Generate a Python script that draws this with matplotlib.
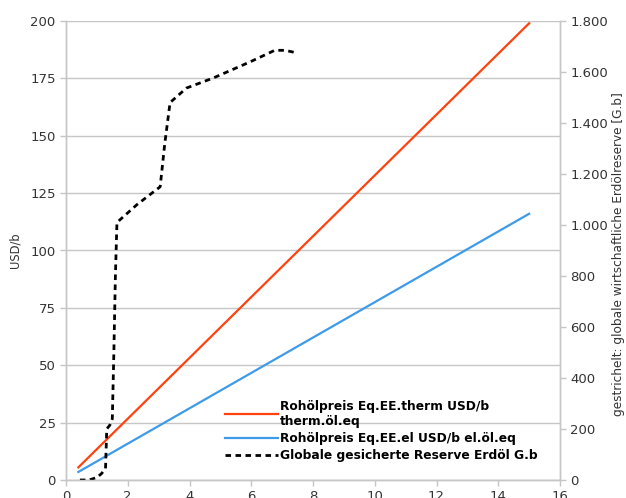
import matplotlib
matplotlib.use("Agg")
import matplotlib.pyplot as plt
from matplotlib.ticker import FuncFormatter

# Data
x_price = [0.4, 15.0]
therm_price = [5.5, 199.0]
el_price = [3.5, 116.0]

x_reserve = [0.45, 0.75, 1.0, 1.15, 1.28, 1.32, 1.42, 1.5, 1.55, 1.6, 1.65,
             2.3, 3.05, 3.2, 3.37, 3.9, 4.76, 5.95, 6.76, 7.1, 7.47]
reserve = [0, 0, 10, 25, 45, 200, 215, 240, 500, 800, 1010,
           1080, 1150, 1320, 1480, 1537, 1576, 1639, 1685, 1685, 1675]

x_ticks = [0, 2, 4, 6, 8, 10, 12, 14, 16]
left_ticks = [0, 25, 50, 75, 100, 125, 150, 175, 200]
right_ticks = [0, 200, 400, 600, 800, 1000, 1200, 1400, 1600, 1800]

labels = ["Rohölpreis Eq.EE.therm USD/b\ntherm.öl.eq",
          "Rohölpreis Eq.EE.el USD/b el.öl.eq",
          "Globale gesicherte Reserve Erdöl G.b"]

plt.rcParams['font.family'] = ['DejaVu Sans']
fig = plt.figure(figsize=(6.26, 4.98), dpi=100)
ax = fig.add_axes([66/626, 1-480/498, (560-66)/626, (480-21)/498])
ax2 = ax.twinx()

grid_c = '#c6c6c6'
text_c = '#333333'

l1, = ax.plot(x_price, therm_price, color='#ff420e', lw=1.6, label=labels[0])
l2, = ax.plot(x_price, el_price, color='#3d9be9', lw=1.6, label=labels[1])
l3, = ax2.plot(x_reserve, reserve, color='black', lw=2.0, ls=(0, (2.0, 1.6)), label=labels[2])

ax.set_xlim(0, 16)
ax.set_ylim(0, 200)
ax2.set_ylim(0, 1800)
ax.set_xticks(x_ticks)
ax.set_yticks(left_ticks)
ax2.set_yticks(right_ticks)
ax2.yaxis.set_major_formatter(FuncFormatter(lambda v, p: f"{int(v):,}".replace(",", ".")))

ax.yaxis.grid(True, color=grid_c, lw=1.0)
ax.set_axisbelow(True)

for a in (ax, ax2):
    for s in a.spines.values():
        s.set_color(grid_c)
        s.set_linewidth(1.0)
    a.tick_params(colors=grid_c, labelcolor=text_c, labelsize=9.5, length=4, width=1)
ax.spines['top'].set_visible(False)
ax2.spines['top'].set_visible(False)

ax.set_ylabel("USD/b", fontsize=8.3, color=text_c, labelpad=6)
ax2.set_ylabel("gestrichelt: globale wirtschaftliche Erdölreserve [G.b]", fontsize=8.7, color=text_c)
ax2.yaxis.set_label_coords((612 - 66) / (560 - 66), 0.493)

leg = ax2.legend(handles=[l1, l2, l3], loc='lower left', bbox_to_anchor=(0.3, 0.015),
                 frameon=False, prop={'weight': 'bold', 'size': 8.8},
                 handlelength=4.3, handletextpad=0.2, labelspacing=0.35)

fig.savefig("out.png", dpi=100)
